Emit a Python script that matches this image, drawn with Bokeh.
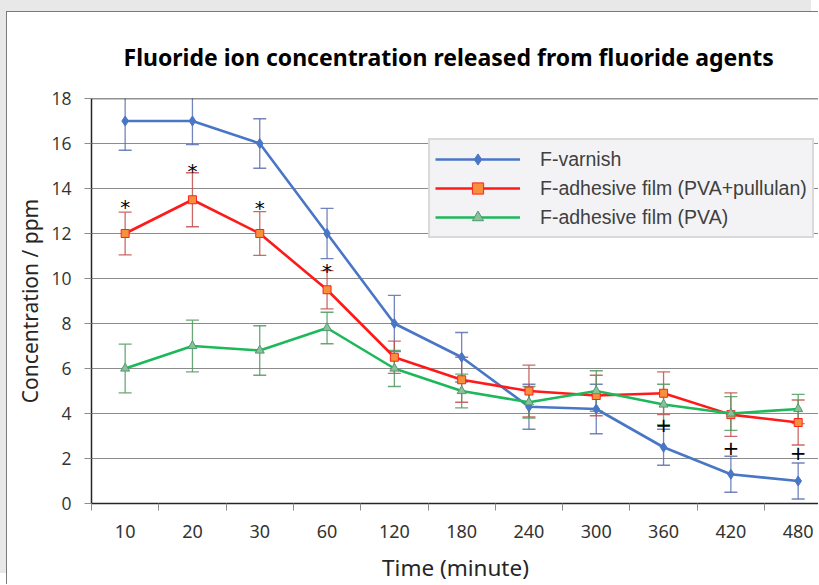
from bokeh.plotting import figure
from bokeh.models import (ColumnDataSource, Whisker, TeeHead, FixedTicker,
                          Range1d, Legend, LegendItem, Span)
from bokeh.core.properties import value
from bokeh.embed import file_html
from bokeh.resources import INLINE

# ---------------- data ----------------
times = ["10", "20", "30", "60", "120", "180", "240", "300", "360", "420", "480"]
varnish = [17.0, 17.0, 16.0, 12.0, 8.0, 6.5, 4.3, 4.2, 2.5, 1.3, 1.0]
varnish_err = [1.3, 1.05, 1.1, 1.12, 1.25, 1.1, 1.0, 1.1, 0.8, 0.8, 0.8]
pullulan = [12.0, 13.5, 12.0, 9.5, 6.5, 5.5, 5.0, 4.8, 4.9, 3.95, 3.6]
pullulan_err = [0.95, 1.2, 0.97, 0.85, 0.72, 1.0, 1.15, 0.9, 0.95, 0.97, 1.0]
pva = [6.0, 7.0, 6.8, 7.8, 6.0, 5.0, 4.5, 5.0, 4.4, 4.0, 4.2]
pva_err = [1.08, 1.15, 1.1, 0.7, 0.8, 0.75, 0.7, 0.9, 0.9, 0.75, 0.65]
y_ticks = [0, 2, 4, 6, 8, 10, 12, 14, 16, 18]
star_times = ["10", "20", "30", "60"]
star_y = [13.4, 15.0, 13.35, 10.55]
plus_times = ["360", "420", "480"]
plus_y = [3.5, 2.45, 2.25]

title_text = "Fluoride ion concentration released from fluoride agents"
names = ["F-varnish", "F-adhesive film (PVA+pullulan)", "F-adhesive film (PVA)"]

xs = list(range(len(times)))
idx = {t: i for i, t in enumerate(times)}

# ---------------- figure ----------------
p = figure(width=812, height=573, x_range=Range1d(-0.5, 10.317), y_range=Range1d(0, 18),
           output_backend="svg", toolbar_location=None,
           min_border_left=84, min_border_right=0, min_border_top=86, min_border_bottom=82)
p.margin = (11, 0, 0, 6)
p.styles = {"border-top": "1px solid #7a7a7a", "border-left": "1px solid #7a7a7a",
            "box-shadow": "-7px -11px 0 0 #e8e8e8"}
p.background_fill_color = "white"
p.border_fill_color = "white"
p.outline_line_color = None

p.title.text = title_text
p.title.text_font = "Noto Sans"
p.title.text_font_style = "bold"
p.title.text_font_size = "23px"
p.title.text_color = "black"
p.title.align = "left"
p.title.offset = 32
p.title.standoff = 51

# axes
p.xgrid.visible = False
p.ygrid.grid_line_color = "#8c8c8c"
p.ygrid.grid_line_width = 1
p.ygrid.ticker = FixedTicker(ticks=y_ticks)

p.yaxis.ticker = FixedTicker(ticks=y_ticks)
p.yaxis.axis_line_color = "#262626"
p.yaxis.axis_line_width = 1.5
p.yaxis.major_tick_line_color = "#8c8c8c"
p.yaxis.major_tick_out = 7
p.yaxis.major_tick_in = 0
p.yaxis.minor_tick_line_color = None
p.yaxis.major_label_text_font = "Open Sans"
p.yaxis.major_label_text_font_size = "17.5px"
p.yaxis.major_label_text_color = "#333333"
p.yaxis.major_label_standoff = 13
p.yaxis.axis_label = "Concentration / ppm"
p.yaxis.axis_label_text_font = "Noto Sans"
p.yaxis.axis_label_text_font_size = "21px"
p.yaxis.axis_label_text_font_style = "normal"
p.yaxis.axis_label_text_color = "#262626"
p.yaxis.axis_label_standoff = 4

p.xaxis.ticker = FixedTicker(ticks=xs, minor_ticks=[i - 0.5 for i in range(len(times) + 1)])
p.xaxis.major_label_overrides = {i: t for i, t in enumerate(times)}
p.xaxis.axis_line_color = "#262626"
p.xaxis.axis_line_width = 1.5
p.xaxis.major_tick_line_color = None
p.xaxis.minor_tick_line_color = "#8c8c8c"
p.xaxis.minor_tick_out = 7
p.xaxis.minor_tick_in = 0
p.xaxis.major_label_text_font = "Noto Sans"
p.xaxis.major_label_text_font_size = "18px"
p.xaxis.major_label_text_color = "#333333"
p.xaxis.major_label_standoff = 14
p.xaxis.axis_label = "Time (minute)"
p.xaxis.axis_label_text_font = "Noto Sans"
p.xaxis.axis_label_text_font_size = "22.5px"
p.xaxis.axis_label_text_font_style = "normal"
p.xaxis.axis_label_text_color = "#262626"
p.xaxis.axis_label_standoff = 11

p.add_layout(Span(location=18, dimension="width", line_color="#262626", line_width=1.5))

# ---------------- series ----------------
series = [
    (varnish, varnish_err, "#4a76c6", "#5b70b0", "diamond", 10, "#4a76c6", "#4a76c6"),
    (pullulan, pullulan_err, "#ff1a1a", "#c0504d", "square", 8, "#f7903a", "#ff2020"),
    (pva, pva_err, "#1cb85a", "#4f9a5f", "triangle", 9, "#8cc09a", "#4f9a6f"),
]
items = []
for (vals, errs, lc, ec, marker, msize, mfill, mline), name in zip(series, names):
    src = ColumnDataSource(dict(x=xs, y=vals,
                                up=[v + e for v, e in zip(vals, errs)],
                                lo=[v - e for v, e in zip(vals, errs)]))
    w = Whisker(source=src, base="x", upper="up", lower="lo",
                line_color=ec, line_width=1.3, line_alpha=0.85, level="underlay",
                upper_head=TeeHead(size=13, line_color=ec, line_width=1.3, line_alpha=0.85),
                lower_head=TeeHead(size=13, line_color=ec, line_width=1.3, line_alpha=0.85))
    p.add_layout(w)
    r_line = p.line("x", "y", source=src, line_color=lc, line_width=2.6)
    r_mark = p.scatter("x", "y", source=src, marker=marker, size=msize,
                       fill_color=mfill, line_color=mline, line_width=1)
    items.append(LegendItem(label=name, renderers=[r_line, r_mark]))

# significance marks
p.text(x=[idx[t] for t in star_times], y=star_y, text=["*"] * len(star_times),
       text_align="center", text_baseline="middle", y_offset=5,
       text_font=value("DejaVu Sans"), text_font_size="20px", text_color="black")
p.text(x=[idx[t] for t in plus_times], y=plus_y, text=["+"] * len(plus_times),
       text_align="center", text_baseline="middle",
       text_font=value("DejaVu Sans"), text_font_size="20px", text_color="black")

legend = Legend(items=items, location=(337, 265),
                label_text_font="Liberation Sans", label_text_font_size="19.5px",
                label_text_color="#404040",
                background_fill_color="#f3f3f5", background_fill_alpha=1,
                border_line_color="#bfbfbf", border_line_width=2,
                glyph_width=85, glyph_height=28, label_height=20,
                spacing=1, padding=5, margin=0, label_standoff=20)
p.add_layout(legend, "center")

open("out.html", "w").write(file_html(p, INLINE))
